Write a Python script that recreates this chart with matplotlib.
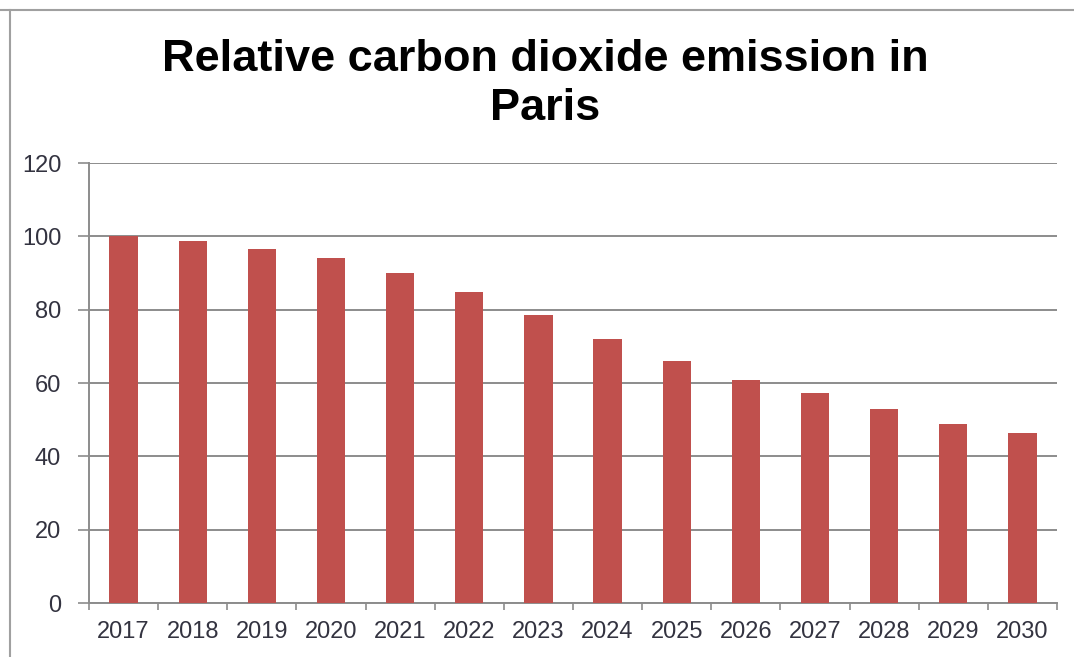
import matplotlib.pyplot as plt
from matplotlib.lines import Line2D
import numpy as np

plt.rcParams['font.family'] = ['Liberation Sans', 'DejaVu Sans']

# values
years = ['2017', '2018', '2019', '2020', '2021', '2022', '2023',
         '2024', '2025', '2026', '2027', '2028', '2029', '2030']
emission = [100, 98.7, 96.6, 94.2, 90.1, 84.9, 78.5,
            72, 65.9, 60.8, 57.2, 52.9, 48.9, 46.3]
y_ticks = [0, 20, 40, 60, 80, 100, 120]

bar_color = '#C0504D'
grid_color = '#8C8C8C'
text_color = '#333340'


def main():
    fig = plt.figure(figsize=(10.74, 6.57), dpi=100)
    ax = fig.add_axes([89 / 1074, 1 - 603 / 657, (1057 - 89) / 1074, 440 / 657])

    x = np.arange(len(years))
    ax.bar(x, emission, width=0.41, color=bar_color, zorder=3)

    ax.set_xlim(-0.5, len(years) - 0.5)
    ax.set_ylim(0, 120)
    ax.set_yticks(y_ticks)
    ax.yaxis.grid(True, color=grid_color, linewidth=1.4, zorder=0)

    # year labels at centres, tick marks at category boundaries
    ax.set_xticks(x)
    ax.set_xticklabels(years)
    ax.set_xticks(np.arange(len(years) + 1) - 0.5, minor=True)
    ax.tick_params(axis='x', which='major', length=0, pad=13,
                   labelsize=17, labelcolor=text_color)
    ax.tick_params(axis='x', which='minor', length=5, width=1.2, color=grid_color)
    ax.tick_params(axis='y', length=8, width=1.2, color=grid_color, pad=12,
                   labelsize=17, labelcolor=text_color)

    for side in ['top', 'right']:
        ax.spines[side].set_visible(False)
    for side in ['left', 'bottom']:
        ax.spines[side].set_color(grid_color)
        ax.spines[side].set_linewidth(1.4)

    fig.text(0.508, 1 - 84 / 657, 'Relative carbon dioxide emission in\nParis',
             ha='center', va='center', fontsize=32.5, fontweight='bold',
             linespacing=1.25, color='black')

    # chart frame (only top and left edges are visible)
    fx = 10 / 1074
    fy = 1 - 10 / 657
    fig.add_artist(Line2D([fx, fx], [0, fy], color='#A0A0A0', linewidth=1.5))
    fig.add_artist(Line2D([0, 1], [fy, fy], color='#A0A0A0', linewidth=1.5))

    fig.savefig('out.png', dpi=100)


if __name__ == '__main__':
    main()
